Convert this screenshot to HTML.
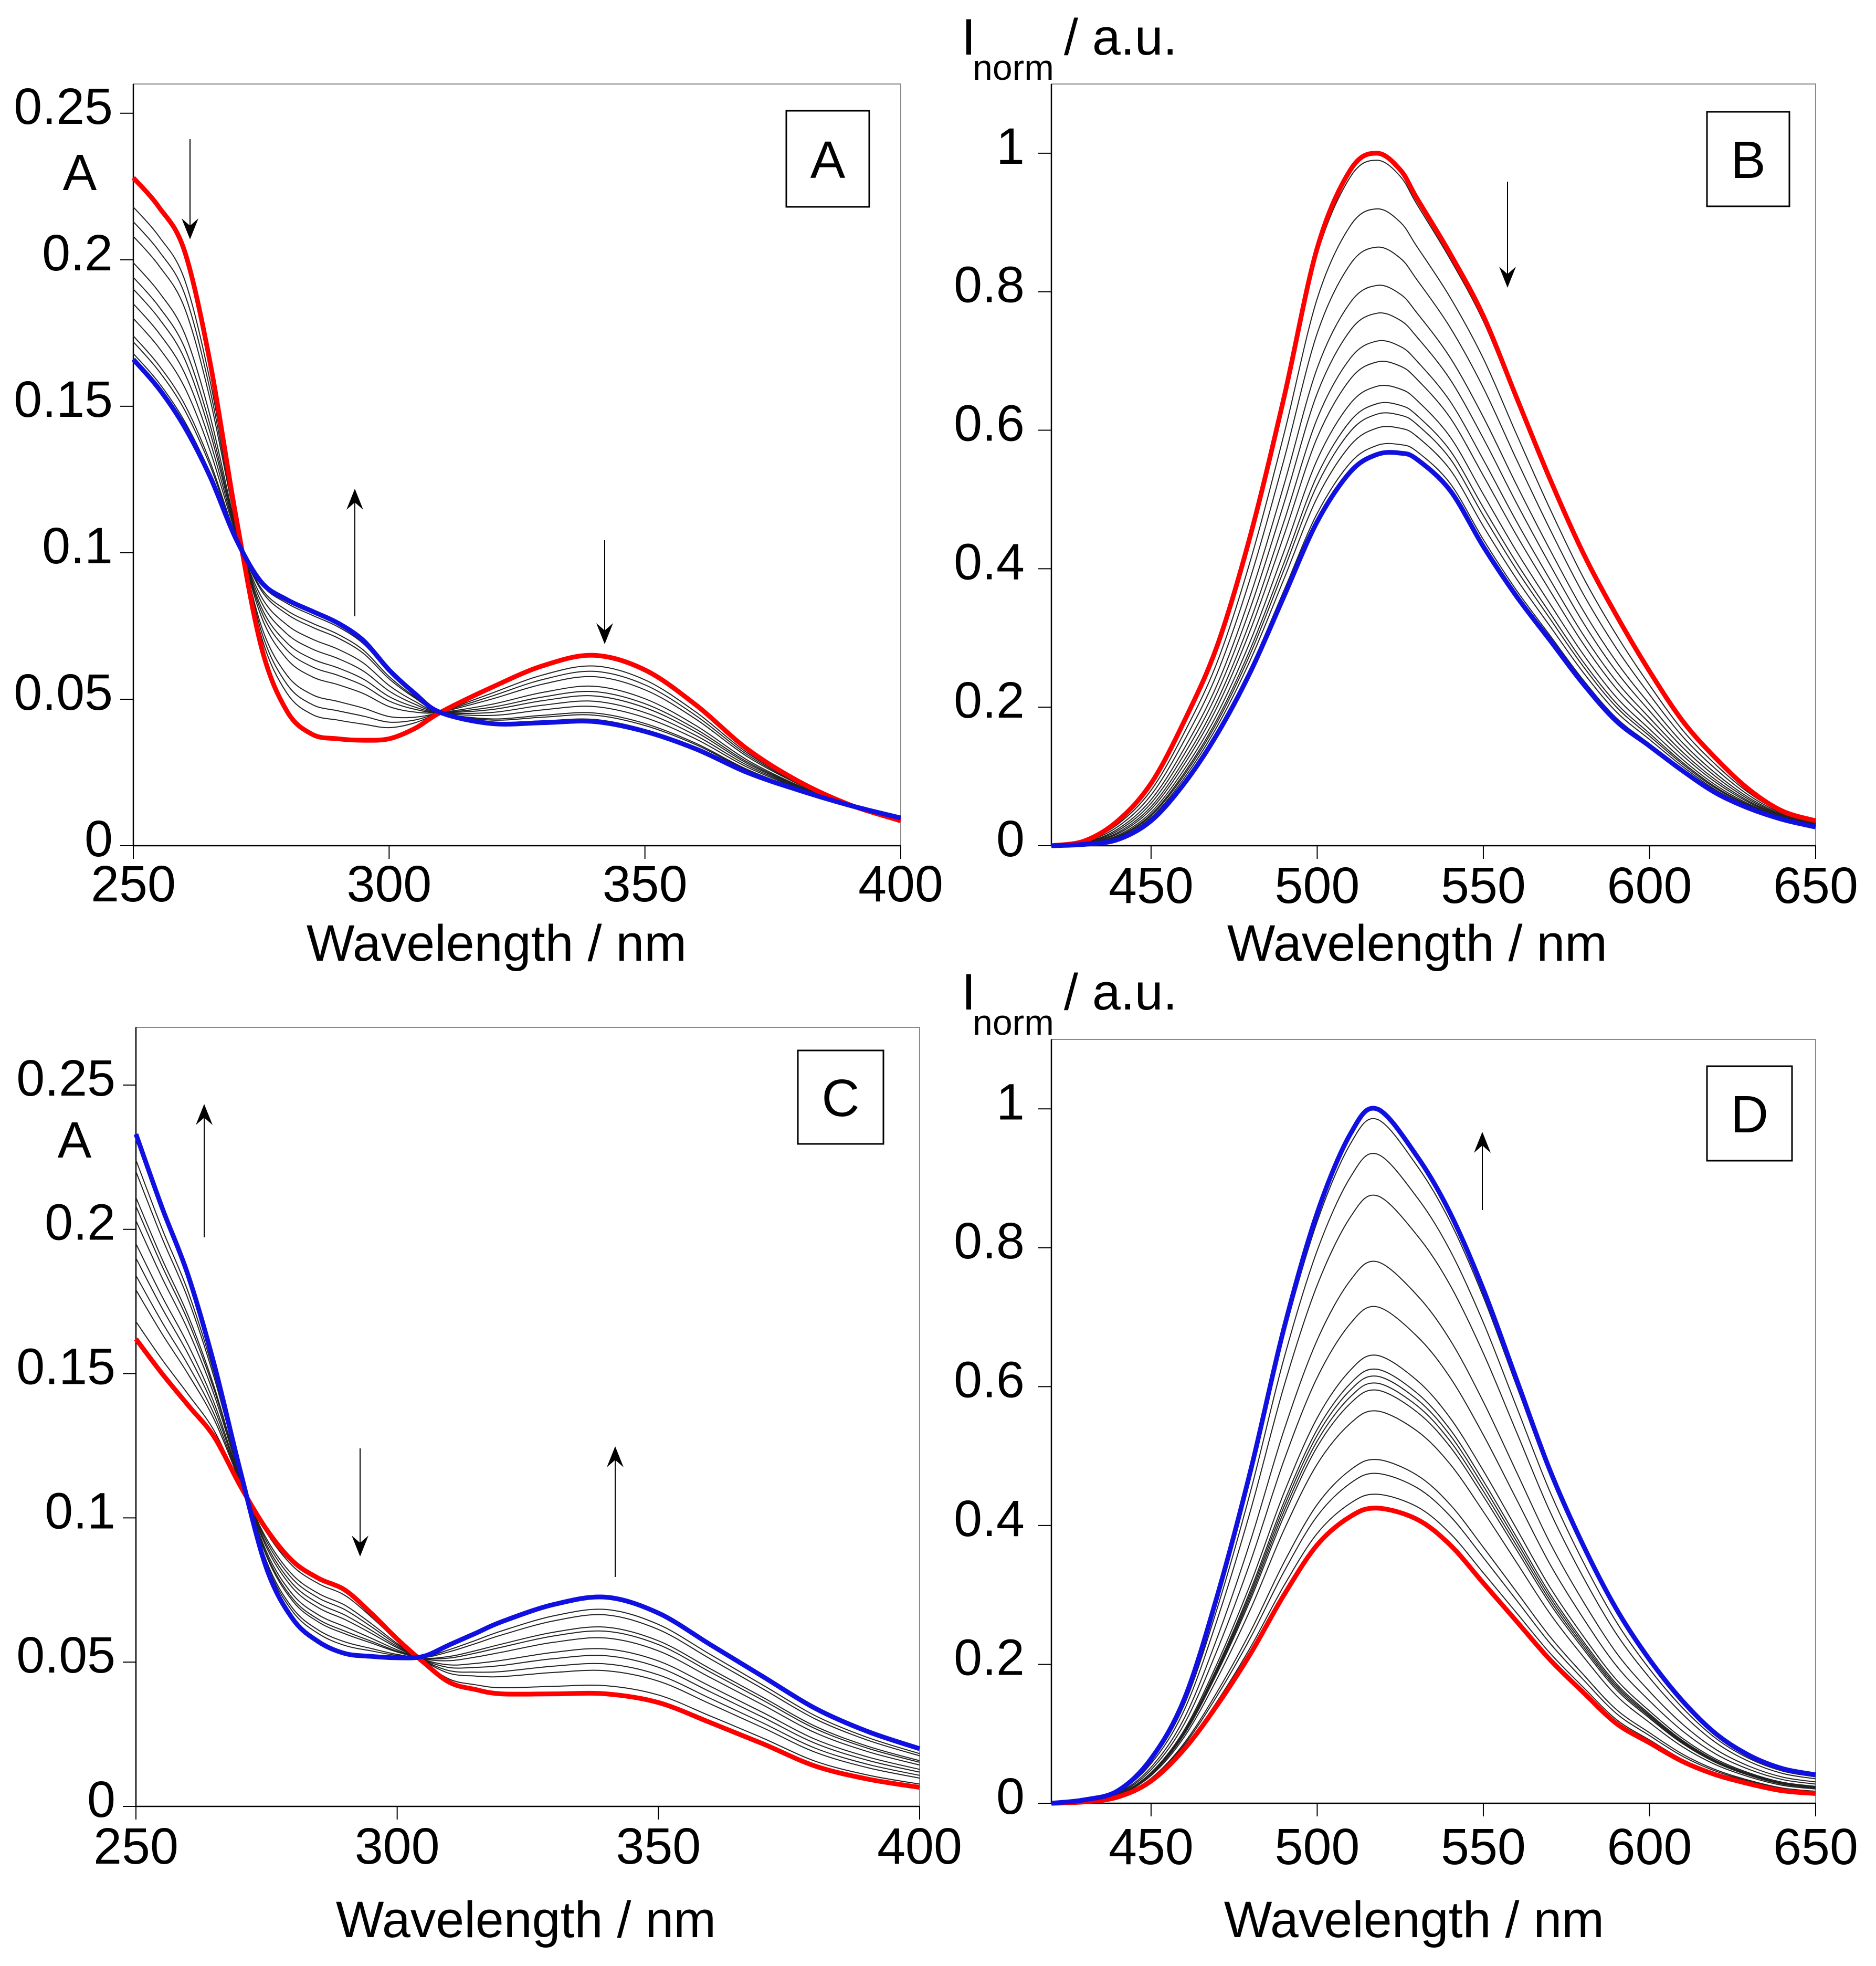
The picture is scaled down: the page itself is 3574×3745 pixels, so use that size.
<!DOCTYPE html>
<html><head><meta charset="utf-8"><style>
html,body{margin:0;padding:0;background:#fff;}
svg{display:block;font-family:"Liberation Sans",Arial,sans-serif;}
</style></head><body>
<svg id="fig" width="3574" height="3745" viewBox="0 0 3574 3745" xmlns="http://www.w3.org/2000/svg">
<rect width="3574" height="3745" fill="#fff"/>
</svg>
<script>
// ---------- Panel A (absorption) ----------
const aWl   = [250,255,260,265,270,275,280,285,290,295,300,305,310,320,330,340,350,360,370,380,390,400];
const aRed  = [0.228,0.218,0.203,0.165,0.113,0.068,0.046,0.038,0.0365,0.036,0.0365,0.040,0.0455,0.054,0.0614,0.065,0.060,0.048,0.033,0.022,0.014,0.0085];
const aBlue = [0.166,0.156,0.143,0.126,0.105,0.090,0.084,0.080,0.076,0.070,0.060,0.052,0.0455,0.0417,0.042,0.0424,0.039,0.033,0.025,0.019,0.0138,0.0095];
const aGrayAt250 = [0.218,0.213,0.208,0.199,0.194,0.19,0.185,0.18,0.174,0.172,0.168];
// ---------- Panel C (absorption) ----------
const cWl   = [250,255,260,265,270,275,280,285,290,295,300,305,310,315,320,330,340,350,360,370,380,390,400];
const cBlue = [0.233,0.2075,0.184,0.153,0.116,0.0825,0.065,0.057,0.053,0.052,0.0515,0.052,0.056,0.060,0.064,0.070,0.0725,0.067,0.056,0.045,0.034,0.026,0.020];
const cRed  = [0.162,0.150,0.139,0.128,0.111,0.096,0.085,0.079,0.075,0.067,0.058,0.050,0.043,0.0405,0.039,0.039,0.039,0.036,0.029,0.0217,0.014,0.0095,0.0066];
const cGrayAt250 = [0.224,0.22,0.211,0.208,0.203,0.195,0.19,0.184,0.179,0.168];
// ---------- Panel B (emission) ----------
const bWl   = [420,430,440,450,460,470,480,490,500,510,518,525,530,540,550,560,570,580,590,600,610,620,630,640,650];
const bRed  = [0,0.007,0.036,0.09,0.18,0.29,0.45,0.647,0.863,0.976,1.0,0.976,0.935,0.855,0.765,0.647,0.53,0.423,0.333,0.252,0.18,0.126,0.081,0.05,0.036];
const bBlue = [0,0.002,0.009,0.036,0.09,0.162,0.252,0.36,0.468,0.54,0.565,0.567,0.558,0.513,0.432,0.36,0.297,0.234,0.18,0.144,0.108,0.076,0.054,0.038,0.027];
const bGrayPeaks = [0.99,0.92,0.865,0.81,0.77,0.73,0.70,0.665,0.64,0.625,0.605,0.58];
// ---------- Panel D (emission) ----------
const dWl   = [420,430,440,450,460,470,480,490,500,510,518,530,540,550,560,570,580,590,600,610,620,630,640,650];
const dBlue = [0,0.005,0.018,0.064,0.15,0.30,0.48,0.684,0.85,0.964,1.0,0.932,0.85,0.74,0.61,0.48,0.372,0.28,0.207,0.147,0.10,0.069,0.05,0.041];
const dRed  = [0,0.002,0.009,0.032,0.078,0.142,0.216,0.30,0.372,0.413,0.425,0.409,0.372,0.317,0.262,0.207,0.16,0.115,0.087,0.06,0.041,0.028,0.018,0.014];
const dGrayPeaks = [0.98,0.95,0.93,0.86,0.83,0.82,0.81,0.80,0.78,0.71,0.645,0.55,0.49,0.44];

const aXTicks = [250,300,350,400], aYTicks=[0,0.05,0.1,0.15,0.2,0.25], aYLabels=["0","0.05","0.1","0.15","0.2","0.25"];
const eXTicks = [450,500,550,600,650], eYTicks=[0,0.2,0.4,0.6,0.8,1], eYLabels=["0","0.2","0.4","0.6","0.8","1"];

const NS="http://www.w3.org/2000/svg";
const svg=document.getElementById('fig');
function mk(tag,attrs,parent){const e=document.createElementNS(NS,tag);for(const k in attrs)e.setAttribute(k,attrs[k]);(parent||svg).appendChild(e);return e;}
function smooth(pts){
  let d='M'+pts[0][0].toFixed(1)+','+pts[0][1].toFixed(1);
  for(let i=0;i<pts.length-1;i++){
    const p0=pts[Math.max(0,i-1)],p1=pts[i],p2=pts[i+1],p3=pts[Math.min(pts.length-1,i+2)];
    const c1=[p1[0]+(p2[0]-p0[0])/6,p1[1]+(p2[1]-p0[1])/6];
    const c2=[p2[0]-(p3[0]-p1[0])/6,p2[1]-(p3[1]-p1[1])/6];
    d+=`C${c1[0].toFixed(1)},${c1[1].toFixed(1)} ${c2[0].toFixed(1)},${c2[1].toFixed(1)} ${p2[0].toFixed(1)},${p2[1].toFixed(1)}`;
  }
  return d;
}

function panel(cfg){
  const g=mk('g',{});
  
  
  const sx=v=>cfg.L+(v-cfg.x0)/(cfg.x1-cfg.x0)*(cfg.R-cfg.L);
  const sy=v=>cfg.Y0-v/cfg.ymax*(cfg.Y0-cfg.T);
  const fr=mk('rect',{x:cfg.L,y:cfg.T,width:cfg.R-cfg.L,height:cfg.Y0-cfg.T,fill:'none',stroke:'#888','stroke-width':2},g);
  
  
  const ax=mk('path',{d:`M${cfg.L},${cfg.T}V${cfg.Y0}H${cfg.R}`,fill:'none',stroke:'#000','stroke-width':2.5},g);
  
  
  cfg.yt.forEach((v,i)=>{
    const y=sy(v);
    mk('line',{x1:cfg.L-25,x2:cfg.L,y1:y,y2:y,stroke:'#000','stroke-width':2},g);
    const t=mk('text',{x:cfg.yLabX,y:y+20,'text-anchor':'end','font-size':97},g);
    t.textContent=cfg.yl[i];
    
    
  });
  cfg.xt.forEach(v=>{
    const x=sx(v);
    mk('line',{x1:x,x2:x,y1:cfg.Y0,y2:cfg.Y0+25,stroke:'#000','stroke-width':2},g);
    const t=mk('text',{x:x,y:cfg.xLabY,'text-anchor':'middle','font-size':97},g);
    t.textContent=String(v);
    
    
  });
  const tt=mk('text',{x:cfg.titleX,y:cfg.titleY,'text-anchor':'middle','font-size':97},g);
  tt.textContent='Wavelength / nm';
  
  
  const path=(wl,vals,col,w,nm)=>{
    const p=mk('path',{d:smooth(wl.map((x,i)=>[sx(x),sy(vals[i])])),fill:'none',stroke:col,'stroke-width':w,'stroke-linejoin':'round'},g);
    
    
  };
  cfg.grays.forEach(vals=>path(cfg.wl,vals,'#222',2,'intermediate-spectrum'));
  path(cfg.wl,cfg.red,'#ff0000',9,'initial-spectrum-red');
  path(cfg.wl,cfg.blue,'#1010e0',9,'final-spectrum-blue');
  const b=cfg.box;
  const br=mk('rect',{x:b[0],y:b[1],width:b[2],height:b[3],fill:'#fff',stroke:'#000','stroke-width':3},g);
  
  
  const bt=mk('text',{x:b[0]+b[2]/2,y:b[1]+b[3]/2+36,'text-anchor':'middle','font-size':100},g);
  bt.textContent=cfg.letter;
  
  
  cfg.arrows.forEach(a=>{
    const [x,y1,y2]=a; const dir=y2>y1?1:-1;
    const l=mk('line',{x1:x,x2:x,y1:y1,y2:y2-dir*20,stroke:'#000','stroke-width':2},g);
    
    
    mk('path',{d:`M${x},${y2}L${x-16},${y2-dir*40}L${x},${y2-dir*26}L${x+16},${y2-dir*40}Z`,fill:'#000'},g);
  });
  if(cfg.ylab==='A'){
    const t=mk('text',{x:cfg.ylabX,y:cfg.ylabY,'text-anchor':'middle','font-size':97},g);
    t.textContent='A';
    
    
  } else {
    const t=mk('text',{x:cfg.ylabX,y:cfg.ylabY,'font-size':97},g);
    
    
    const s1=mk('tspan',{},t); s1.textContent='I';
    const s2=mk('tspan',{x:cfg.ylabX+21,y:cfg.ylabY+48,'font-size':68},t); s2.textContent='norm';
    const s3=mk('tspan',{x:cfg.ylabX+195,y:cfg.ylabY},t); s3.textContent='/ a.u.';
  }
}
function mixGrays(red,blue,weights){return weights.map(w=>red.map((r,i)=>blue[i]+w*(r-blue[i])));}

panel({name:'panel-a',letter:'A',L:254,R:1716,T:160,Y0:1611,x0:250,x1:400,ymax:0.26,
  xt:aXTicks,yt:aYTicks,yl:aYLabels,yLabX:215,xLabY:1717,titleX:946,titleY:1830,
  wl:aWl,red:aRed,blue:aBlue,grays:mixGrays(aRed,aBlue,aGrayAt250.map(v=>(v-aBlue[0])/(aRed[0]-aBlue[0]))),
  box:[1498,211,158,183],arrows:[[362,265,456],[676,1174,931],[1152,1029,1227]],ylab:'A',ylabX:152,ylabY:362});
panel({name:'panel-b',letter:'B',L:2003,R:3459,T:160,Y0:1611,x0:420,x1:650,ymax:1.1,
  xt:eXTicks,yt:eYTicks,yl:eYLabels,yLabX:1952,xLabY:1720,titleX:2700,titleY:1830,
  wl:bWl,red:bRed,blue:bBlue,grays:mixGrays(bRed,bBlue,bGrayPeaks.map(v=>(v-0.567)/(1-0.567))),
  box:[3252,213,157,180],arrows:[[2872,346,548]],ylab:'I',ylabX:1832,ylabY:104});
panel({name:'panel-c',letter:'C',L:259,R:1752,T:1957,Y0:3441,x0:250,x1:400,ymax:0.27,
  xt:aXTicks,yt:aYTicks,yl:aYLabels,yLabX:220,xLabY:3550,titleX:1002,titleY:3690,
  wl:cWl,red:cRed,blue:cBlue,grays:mixGrays(cRed,cBlue,cGrayAt250.map(v=>(v-cBlue[0])/(cRed[0]-cBlue[0]))),
  box:[1520,2001,163,178],arrows:[[389,2357,2103],[686,2759,2965],[1172,3004,2755]],ylab:'A',ylabX:142,ylabY:2205});
panel({name:'panel-d',letter:'D',L:2003,R:3459,T:1980,Y0:3435,x0:420,x1:650,ymax:1.1,
  xt:eXTicks,yt:eYTicks,yl:eYLabels,yLabX:1952,xLabY:3551,titleX:2694,titleY:3690,
  wl:dWl,red:dRed,blue:dBlue,grays:mixGrays(dRed,dBlue,dGrayPeaks.map(v=>(v-0.425)/(1-0.425))),
  box:[3252,2031,162,180],arrows:[[2824,2305,2156]],ylab:'I',ylabX:1832,ylabY:1923});
</script>
</body></html>
